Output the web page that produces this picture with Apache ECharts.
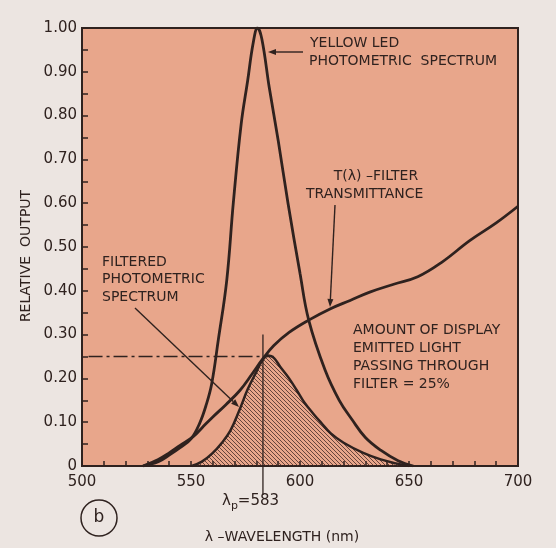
<!DOCTYPE html>
<html>
<head>
<meta charset="utf-8">
<script src="https://cdn.jsdelivr.net/npm/echarts@6/dist/echarts.min.js"></script>
<style>
html,body{margin:0;padding:0;background:#ece5e1;}
#c{width:556px;height:548px;}
</style>
</head>
<body>
<div id="c"></div>
<script>
// ---- data ----
var ledWavelength = [528, 535, 540, 545, 550, 554, 557, 559.5, 562.5, 566.4, 569.4, 573, 576, 578.5, 580.5, 582.5, 585.9, 590, 594.5, 600, 604, 611.5, 618, 624, 630, 637, 645, 652];
var ledOutput     = [0, 0.01, 0.025, 0.042, 0.062, 0.098, 0.14, 0.188, 0.287, 0.424, 0.60, 0.78, 0.88, 0.965, 1.0, 0.975, 0.864, 0.743, 0.60, 0.44, 0.333, 0.219, 0.15, 0.105, 0.065, 0.036, 0.012, 0];

var filterWavelength    = [528, 535, 540, 545, 551, 555, 560, 566, 572.5, 578, 583, 588, 595, 604, 614, 623, 632, 643, 654, 665, 678, 690, 700];
var filterTransmittance = [0, 0.015, 0.03, 0.047, 0.067, 0.087, 0.112, 0.14, 0.173, 0.21, 0.245, 0.275, 0.305, 0.333, 0.359, 0.378, 0.397, 0.415, 0.432, 0.465, 0.515, 0.555, 0.593];

var filteredWavelength = [550.3, 555, 560, 564, 568, 572, 576, 580, 583, 585.5, 588, 591, 595, 598.5, 602, 606, 610, 614, 620, 629, 637, 644, 650];
var filteredOutput     = [0, 0.01, 0.03, 0.052, 0.08, 0.125, 0.175, 0.215, 0.243, 0.252, 0.247, 0.226, 0.2, 0.173, 0.145, 0.12, 0.097, 0.075, 0.053, 0.03, 0.015, 0.006, 0];

var xTicks = [500, 550, 600, 650, 700];
var yTicks = [0, 0.1, 0.2, 0.3, 0.4, 0.5, 0.6, 0.7, 0.8, 0.9, 1.0];
var peakWavelength = 583;
var passedFraction = 0.25;

function zip(a, b) { return a.map(function (v, i) { return [v, b[i]]; }); }

var INK = '#2f221f';
var FONT = 'DejaVu Sans';

// hatch pattern
var pc = document.createElement('canvas');
pc.width = 4; pc.height = 4;
var g = pc.getContext('2d');
g.strokeStyle = 'rgba(70,45,40,0.8)';
g.lineWidth = 1;
g.beginPath();
g.moveTo(-1, -1); g.lineTo(5, 5);
g.moveTo(-1, 3); g.lineTo(1, 5);
g.moveTo(3, -1); g.lineTo(5, 1);
g.stroke();

var chart = echarts.init(document.getElementById('c'), null, {renderer: 'canvas'});

var option = {
  backgroundColor: '#ece5e1',
  animation: false,
  grid: {left: 82, right: 38, top: 28, bottom: 82, show: true, backgroundColor: '#e8a68b', borderColor: INK, borderWidth: 2},
  xAxis: {
    type: 'value', min: xTicks[0], max: xTicks[xTicks.length - 1], interval: 50,
    axisLine: {show: true, lineStyle: {color: INK, width: 2}},
    axisTick: {show: true, inside: true, length: 5, lineStyle: {color: INK, width: 1.5}},
    minorTick: {show: true, splitNumber: 5, length: 5, lineStyle: {color: INK, width: 1.5}},
    splitLine: {show: false},
    axisLabel: {color: INK, fontFamily: FONT, fontSize: 15, margin: 9}
  },
  yAxis: {
    type: 'value', min: yTicks[0], max: yTicks[yTicks.length - 1], interval: 0.1,
    axisLine: {show: true, lineStyle: {color: INK, width: 2}},
    axisTick: {show: true, inside: true, length: 6, lineStyle: {color: INK, width: 1.5}},
    minorTick: {show: true, splitNumber: 2, length: 6, lineStyle: {color: INK, width: 1.5}},
    splitLine: {show: false},
    axisLabel: {color: INK, fontFamily: FONT, fontSize: 15, margin: 5,
      formatter: function (v) { return v === 0 ? '0' : v.toFixed(2); }}
  },
  series: [
    {
      type: 'line', data: zip(filteredWavelength, filteredOutput), smooth: 0.4,
      symbol: 'none', lineStyle: {color: INK, width: 2.5},
      areaStyle: {color: {image: pc, repeat: 'repeat'}, opacity: 1}, z: 2
    },
    {
      type: 'line', data: zip(ledWavelength, ledOutput), smooth: 0.4,
      symbol: 'none', lineStyle: {color: INK, width: 2.8}, z: 3
    },
    {
      type: 'line', data: zip(filterWavelength, filterTransmittance), smooth: 0.4,
      symbol: 'none', lineStyle: {color: INK, width: 2.8}, z: 3
    }
  ]
};
chart.setOption(option);

function px(x, y) { return chart.convertToPixel({gridIndex: 0}, [x, y]); }

function arrow(x1, y1, x2, y2) {
  var ang = Math.atan2(y2 - y1, x2 - x1);
  var L = 8, W = 3;
  var bx = x2 - L * Math.cos(ang), by = y2 - L * Math.sin(ang);
  var nx = -Math.sin(ang) * W, ny = Math.cos(ang) * W;
  return [
    {type: 'line', shape: {x1: x1, y1: y1, x2: bx, y2: by}, style: {stroke: INK, lineWidth: 1.4}, z: 20},
    {type: 'polygon', shape: {points: [[x2, y2], [bx + nx, by + ny], [bx - nx, by - ny]]}, style: {fill: INK}, z: 20}
  ];
}

function txt(x, y, s, size, align) {
  return {type: 'text', x: x, y: y, z: 20, style: {text: s, fill: INK, font: (size || 14) + 'px "' + FONT + '"', textAlign: align || 'left', textVerticalAlign: 'middle'}};
}

var pA = px(503, passedFraction), pB = px(588, passedFraction);
var pTop = px(peakWavelength, 0.30), pBot = px(peakWavelength, -0.066);

var els = [];
els.push({type: 'line', shape: {x1: pA[0], y1: pA[1], x2: pB[0], y2: pB[1]}, style: {stroke: INK, lineWidth: 1.3, lineDash: [14, 4, 3, 4]}, z: 15});
els.push({type: 'line', shape: {x1: pTop[0], y1: pTop[1], x2: pBot[0], y2: pBot[1]}, style: {stroke: INK, lineWidth: 1.3}, z: 15});

els = els.concat(arrow(303, 52, 268, 52));
els = els.concat(arrow(335, 205, 330, 307));
els = els.concat(arrow(135, 308, 239, 407));

els.push(txt(310, 43, 'YELLOW LED'));
els.push(txt(309, 61, 'PHOTOMETRIC  SPECTRUM'));
els.push(txt(376, 176, 'T(λ) –FILTER', 14, 'center'));
els.push(txt(306, 194, 'TRANSMITTANCE'));
els.push(txt(102, 262, 'FILTERED'));
els.push(txt(102, 279, 'PHOTOMETRIC'));
els.push(txt(102, 297, 'SPECTRUM'));
els.push(txt(353, 330, 'AMOUNT OF DISPLAY'));
els.push(txt(353, 348, 'EMITTED LIGHT'));
els.push(txt(353, 366, 'PASSING THROUGH'));
els.push(txt(353, 384, 'FILTER = 25%'));

els.push({type: 'text', x: 222, y: 501, z: 20, style: {
  rich: {a: {fill: INK, fontFamily: FONT, fontSize: 15}, s: {fill: INK, fontFamily: FONT, fontSize: 11, padding: [10, 0, 0, 0]}},
  text: '{a|λ}{s|p}{a|=583}', textVerticalAlign: 'middle'}});

els.push({type: 'circle', shape: {cx: 99, cy: 518, r: 18}, style: {stroke: INK, fill: 'none', lineWidth: 1.5}, z: 20});
els.push(txt(99, 518, 'b', 17, 'center'));

els.push(txt(282, 537, 'λ –WAVELENGTH (nm)', 14, 'center'));
els.push({type: 'text', x: 26, y: 256, rotation: Math.PI / 2, z: 20,
  style: {text: 'RELATIVE  OUTPUT', fill: INK, font: '14px "' + FONT + '"', textAlign: 'center', textVerticalAlign: 'middle'}});

chart.setOption({graphic: {elements: els}});
</script>
</body>
</html>
